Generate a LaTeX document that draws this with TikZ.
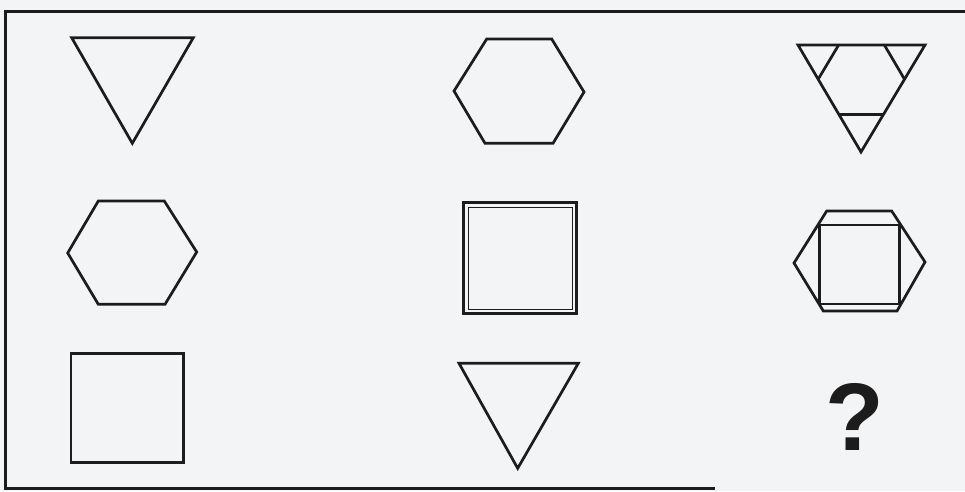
\documentclass[tikz,border=0pt]{standalone}
\usepackage{fontspec}
\newfontfamily\markfont{Liberation Sans}
\usetikzlibrary{calc,positioning}
\definecolor{ink}{HTML}{1C1C1C}
\definecolor{paper}{HTML}{F3F4F6}

\tikzset{
  figure/.style={draw=ink, line width=2.7pt, line join=miter},
  thinfigure/.style={draw=ink, line width=1pt},
  frameline/.style={draw=ink, line width=3pt},
}

\begin{document}
\begin{tikzpicture}[x=1pt, y=-1pt]
    % Page
    \fill[paper] (0,0) rectangle (965,491);
    \useasboundingbox (0,0) rectangle (965,491);

    % Frame
    \coordinate (frameTL) at (5,11);
    \coordinate (frameTR) at (965,11);
    \coordinate (frameBL) at (5,488);
    \coordinate (frameBR) at (715,488);
    \draw[frameline] (frameTR) -- (frameTL) -- (frameBL) -- (frameBR);

    % Row 1
    \draw[figure] (71.7,37.7) -- (193.3,37.7) -- (132.3,143.3) -- cycle;
    \draw[figure] (486.7,39) -- (551.7,39) -- (584,92) -- (553,143.3) -- (485,143.3) -- (454,91) -- cycle;
    \coordinate (triA) at (798,45);
    \coordinate (triB) at (925,45);
    \coordinate (triC) at (861,152);
    \draw[figure] (triA) -- (triB) -- (triC) -- cycle;
    \draw[figure] ($(triA)!0.32!(triB)$) -- ($(triA)!0.32!(triC)$);
    \draw[figure] ($(triB)!0.32!(triA)$) -- ($(triB)!0.32!(triC)$);
    \draw[figure] ($(triC)!0.35!(triA)$) -- ($(triC)!0.35!(triB)$);

    % Row 2
    \draw[figure] (98.3,201) -- (164.3,201) -- (196.7,252) -- (165,304.3) -- (98.3,304.3) -- (67.7,253) -- cycle;
    \draw[figure] (463.3,202.7) rectangle (576.7,313.3);
    \draw[thinfigure] (468.5,207) rectangle (572.5,309);
    \draw[figure] (826.7,211) -- (891.7,211) -- (925,262) -- (897,311) -- (823.3,311) -- (794,263) -- cycle;
    \draw[figure] (819.3,225) rectangle (899.3,304);

    % Row 3
    \draw[figure] (71,353.3) rectangle (183.3,462.7);
    \draw[figure] (459,363.3) -- (578.3,363.3) -- (517.7,468.3) -- cycle;
    \node[inner sep=0pt, text=ink, font=\markfont\bfseries\fontsize{96}{96}\selectfont] (query) at (854.5,416.7) {?};
\end{tikzpicture}
\end{document}
